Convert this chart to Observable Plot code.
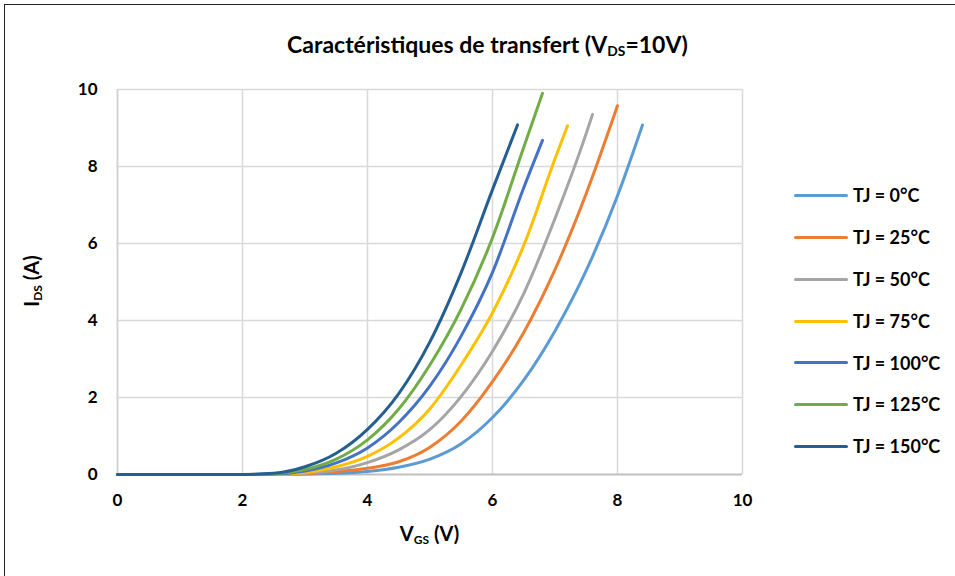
<!DOCTYPE html>
<html>
<head>
<meta charset="utf-8">
<script src="https://cdn.jsdelivr.net/npm/d3@7"></script>
<script src="https://cdn.jsdelivr.net/npm/@observablehq/plot@0.6"></script>
<style>
  html, body { margin: 0; padding: 0; background: #fff; }
  #wrap { position: relative; width: 955px; height: 576px; overflow: hidden;
          font-family: Lato, "Open Sans", sans-serif; font-weight: bold; color: #000; }
  #frame { position: absolute; left: 4px; top: 4px; width: 960px; height: 600px;
           border-left: 1.5px solid #222; border-top: 1.5px solid #222; pointer-events: none; }
  .t { position: absolute; white-space: nowrap; }
  #title { top: 30px; left: 0; width: 975px; text-align: center; font-size: 23px; }
  #xlab { top: 521px; left: 117px; width: 625px; text-align: center; font-size: 20px; }
  #ylab { left: 31px; top: 281px; transform: translate(-50%, -50%) rotate(-90deg); font-size: 20px; }
  sub { font-size: 0.6em; vertical-align: -0.25em; line-height: 0; }
  #legend { position: absolute; left: 794px; top: 0; }
  .item { position: absolute; left: 0; white-space: nowrap; font-size: 18px; }
  .item .sw { position: absolute; left: 0; top: -1.5px; width: 54px; height: 3px; border-radius: 2px; }
  .item span.lab { position: absolute; left: 59px; top: -11px; }
</style>
</head>
<body>
<div id="wrap">
  <div id="chart"></div>
  <div id="title" class="t">Caractéristiques de transfert (V<sub>DS</sub>=10V)</div>
  <div id="xlab" class="t">V<sub>GS</sub> (V)</div>
  <div id="ylab" class="t">I<sub>DS</sub> (A)</div>
  <div id="legend"></div>
  <div id="frame"></div>
</div>
<script>
// Series names and colours
const seriesNames = ["TJ = 0°C", "TJ = 25°C", "TJ = 50°C", "TJ = 75°C", "TJ = 100°C", "TJ = 125°C", "TJ = 150°C"];
const seriesColors = ["#5B9BD5", "#ED7D31", "#A5A5A5", "#FFC000", "#4472C4", "#70AD47", "#255E91"];

// VGS (V) / IDS (A) readings for each junction temperature
const vgs0   = [0, 2, 2.5, 3, 3.5, 4, 4.5, 5, 5.5, 6, 6.5, 7, 7.5, 8, 8.4];
const ids0   = [0, 0, 0, 0.01, 0.03, 0.08, 0.19, 0.40, 0.80, 1.48, 2.45, 3.73, 5.30, 7.24, 9.08];
const vgs25  = [0, 2, 2.5, 3, 3.5, 4, 4.5, 5, 5.5, 6, 6.5, 7, 7.5, 8];
const ids25  = [0, 0, 0, 0.02, 0.07, 0.16, 0.33, 0.71, 1.39, 2.41, 3.69, 5.32, 7.30, 9.58];
const vgs50  = [0, 2, 2.5, 3, 3.5, 4, 4.5, 5, 5.5, 6, 6.5, 7, 7.5, 7.6];
const ids50  = [0, 0, 0, 0.03, 0.12, 0.31, 0.64, 1.17, 2.03, 3.2, 4.7, 6.65, 8.86, 9.35];
const vgs75  = [0, 2, 2.5, 3, 3.5, 4, 4.5, 5, 5.5, 6, 6.5, 7, 7.2];
const ids75  = [0, 0, 0, 0.05, 0.2, 0.47, 0.95, 1.71, 2.85, 4.2, 5.95, 8.2, 9.06];
const vgs100 = [0, 2, 2.5, 3, 3.5, 4, 4.5, 5, 5.5, 6, 6.5, 6.8];
const ids100 = [0, 0, 0.01, 0.09, 0.3, 0.69, 1.35, 2.3, 3.6, 5.25, 7.45, 8.68];
const vgs125 = [0, 2, 2.5, 3, 3.5, 4, 4.5, 5, 5.5, 6, 6.5, 6.8];
const ids125 = [0, 0, 0.02, 0.13, 0.4, 0.9, 1.7, 2.85, 4.3, 6.15, 8.5, 9.9];
const vgs150 = [0, 2, 2.5, 3, 3.5, 4, 4.5, 5, 5.5, 6, 6.4];
const ids150 = [0, 0, 0.03, 0.2, 0.55, 1.17, 2.1, 3.45, 5.25, 7.4, 9.08];

// Axis ticks
const xTicks = [0, 2, 4, 6, 8, 10];
const yTicks = [0, 2, 4, 6, 8, 10];

const allV = [vgs0, vgs25, vgs50, vgs75, vgs100, vgs125, vgs150];
const allI = [ids0, ids25, ids50, ids75, ids100, ids125, ids150];
const rows = [];
seriesNames.forEach((name, s) => {
  allV[s].forEach((v, i) => rows.push({ series: name, vgs: v, ids: allI[s][i] }));
});

const font = 'Lato, "Open Sans", sans-serif';

const chart = Plot.plot({
  width: 955,
  height: 576,
  marginLeft: 117,
  marginRight: 213,
  marginTop: 89,
  marginBottom: 102,
  style: { fontFamily: font, fontWeight: "bold", fontSize: "17px", color: "#000", background: "transparent", overflow: "visible" },
  x: { domain: [0, 10], ticks: xTicks },
  y: { domain: [0, 10], ticks: yTicks },
  color: { domain: seriesNames, range: seriesColors },
  marks: [
    Plot.gridX(xTicks.slice(1), { stroke: "#d9d9d9", strokeOpacity: 1, strokeWidth: 1.5 }),
    Plot.gridY(yTicks.slice(1), { stroke: "#d9d9d9", strokeOpacity: 1, strokeWidth: 1.5 }),
    Plot.ruleX([0], { stroke: "#d0d0d0", strokeWidth: 1.8 }),
    Plot.ruleY([0], { stroke: "#bfbfbf", strokeWidth: 1.8 }),
    Plot.axisX(xTicks, { tickSize: 0, tickPadding: 19, label: null, fontSize: 17, fontWeight: "bold", fill: "#000" }),
    Plot.axisY(yTicks, { tickSize: 0, tickPadding: 20, label: null, fontSize: 17, fontWeight: "bold", fill: "#000" }),
    Plot.line(rows, { x: "vgs", y: "ids", z: "series", stroke: "series", strokeWidth: 3,
                      curve: "monotone-x", strokeLinecap: "round", strokeLinejoin: "round" })
  ]
});
document.getElementById("chart").appendChild(chart);

// Legend
const legendTops = [195, 237, 279, 321, 362.5, 404, 446];
const lg = document.getElementById("legend");
seriesNames.forEach((name, i) => {
  const d = document.createElement("div");
  d.className = "item";
  d.style.top = legendTops[i] + "px";
  d.innerHTML = `<div class="sw" style="background:${seriesColors[i]}"></div><span class="lab">${name}</span>`;
  lg.appendChild(d);
});
</script>
</body>
</html>
